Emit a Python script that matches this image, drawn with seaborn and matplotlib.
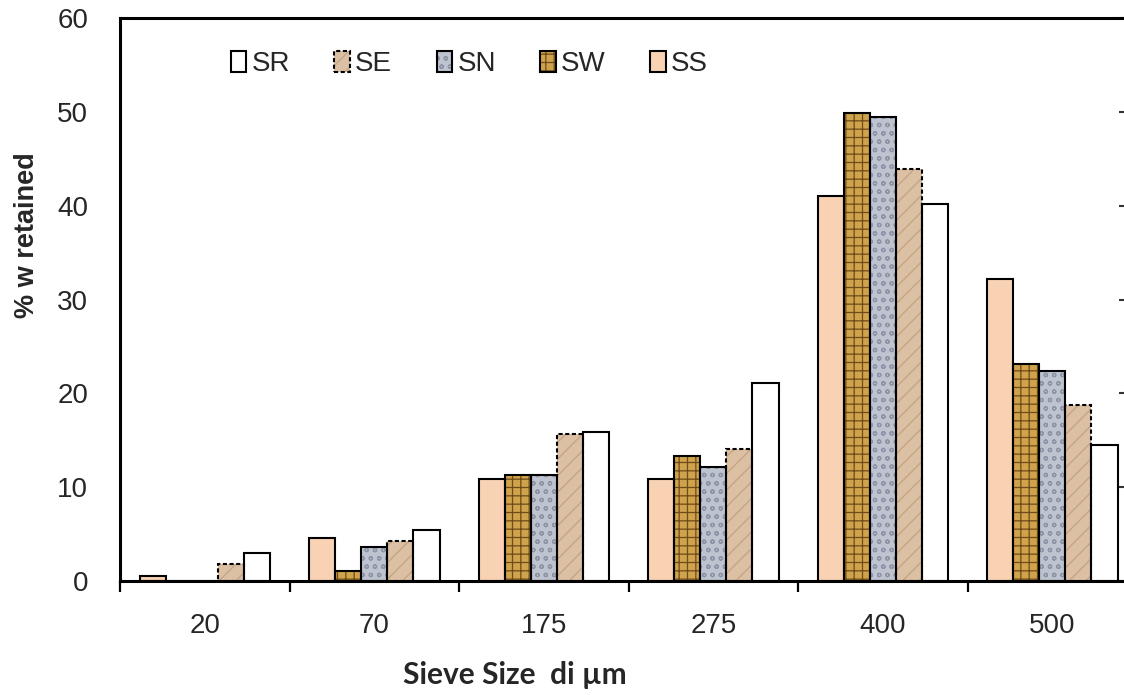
import matplotlib

matplotlib.use("Agg")
import matplotlib.pyplot as plt
import matplotlib.patches as mpatches
import pandas as pd
import seaborn as sns
from matplotlib.ticker import FixedLocator

# % weight retained on each sieve, per sample
sieve_sizes = ["20", "70", "175", "275", "400", "500"]
ss = [0.5, 4.6, 10.9, 10.9, 41.0, 32.2]
sw = [0.0, 1.1, 11.3, 13.3, 49.9, 23.1]
sn = [0.0, 3.6, 11.3, 12.1, 49.4, 22.4]
se = [1.8, 4.3, 15.7, 14.1, 43.9, 18.8]
sr = [3.0, 5.4, 15.9, 21.1, 40.2, 14.5]
samples = ["SS", "SW", "SN", "SE", "SR"]

# fill / texture per sample (textures approximated with hatches)
STYLE = {
    "SS": dict(face="#F8D2B2", hatch=None, hcol="#F8D2B2", ls="-"),
    "SW": dict(face="#CFA24C", hatch="++", hcol="#6E4B18", ls="-"),
    "SN": dict(face="#BEC3D0", hatch="oo", hcol="#8E94A6", ls="-"),
    "SE": dict(face="#DBC0A4", hatch="//", hcol="#C4A384", ls=(0, (2, 1.2))),
    "SR": dict(face="#FFFFFF", hatch=None, hcol="#FFFFFF", ls="-"),
}

df = pd.DataFrame({"SS": ss, "SW": sw, "SN": sn, "SE": se, "SR": sr},
                  index=sieve_sizes)
long = df.reset_index(names="sieve").melt(id_vars="sieve", var_name="sample",
                                           value_name="pct")

sns.set_theme(style="white")
plt.rcParams["font.family"] = ["Liberation Sans", "DejaVu Sans"]
plt.rcParams["hatch.linewidth"] = 0.9

fig = plt.figure(figsize=(11.24, 6.95), dpi=100)
ax = fig.add_axes([0.1068, 0.164, 0.9048, 0.8101])

sns.barplot(data=long, x="sieve", y="pct", hue="sample",
            order=sieve_sizes, hue_order=samples,
            palette={s: STYLE[s]["face"] for s in samples},
            width=0.77, gap=0, saturation=1, linewidth=0,
            errorbar=None, legend=False, ax=ax)

for cont, name in zip(ax.containers, samples):
    st = STYLE[name]
    for bar in cont:
        if st["hatch"]:
            bar.set_hatch(st["hatch"])
        bar.set_edgecolor(st["hcol"])
        bar.set_linewidth(0)
        ax.add_patch(mpatches.Rectangle(bar.get_xy(), bar.get_width(),
                                        bar.get_height(), fill=False,
                                        ec="black", lw=1.5, ls=st["ls"],
                                        zorder=bar.get_zorder() + 0.1))

# legend, reversed order like the original
handles = []
for name in samples[::-1]:
    st = STYLE[name]
    handles.append((mpatches.Patch(facecolor=st["face"], hatch=st["hatch"],
                                   edgecolor=st["hcol"], lw=0),
                    mpatches.Patch(fill=False, ec="black", lw=1.5, ls=st["ls"])))
ax.legend(handles, samples[::-1], ncol=5, frameon=False, fontsize=20,
          loc="center left", bbox_to_anchor=(0.095, 0.918), borderpad=0,
          handlelength=0.55, handleheight=0.8, handletextpad=0.2,
          columnspacing=1.6)

ax.set_xlim(-0.5, 5.5)
ax.set_ylim(0, 60)
ax.set_yticks(range(0, 61, 10))
ax.xaxis.set_minor_locator(FixedLocator([i - 0.5 for i in range(7)]))
ax.tick_params(axis="x", which="major", length=0, pad=23, labelsize=20)
ax.tick_params(axis="x", which="minor", bottom=True, direction="out",
               length=8, width=1.6, color="black")
ax.tick_params(axis="y", left=False, right=True, direction="in",
               length=13, width=1.5, color="#333333", pad=23, labelsize=20)

for side in ["left", "bottom", "top", "right"]:
    ax.spines[side].set_visible(True)
    ax.spines[side].set_color("black")
    ax.spines[side].set_linewidth(2.2)

ax.set_ylabel("% w retained", fontsize=19.5, fontweight="bold")
ax.yaxis.set_label_coords(-0.079, 0.615)
ax.set_xlabel("Sieve Size  di \u00b5m", family=["Lato", "DejaVu Sans"],
              fontsize=21.5, fontweight="bold")
ax.xaxis.set_label_coords(0.388, -0.142)
ax.xaxis.label.set_va("top")

fig.savefig("out.png", dpi=100)
